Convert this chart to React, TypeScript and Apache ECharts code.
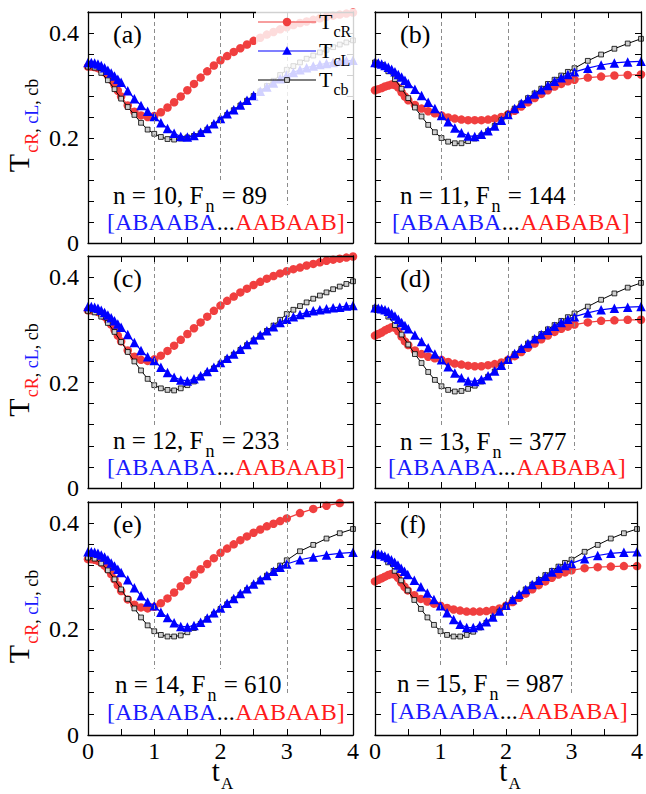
import React, { useEffect, useRef } from 'react';
import * as echarts from 'echarts';

// ---------- sampling grids (t_A) ----------
const T_FINE = [0, 0.05, 0.1, 0.15, 0.2, 0.25, 0.3, 0.35, 0.4, 0.45, 0.5, 0.6, 0.7, 0.8, 0.9, 1.0, 1.1, 1.2, 1.3, 1.4, 1.5, 1.6, 1.7, 1.8, 1.9, 2.0, 2.1, 2.2, 2.3, 2.4, 2.5, 2.6, 2.7, 2.8, 2.9, 3.0, 3.1, 3.2, 3.3, 3.4, 3.5, 3.6, 3.7, 3.8, 3.9, 4.0];
const T_COARSE = [0, 0.05, 0.1, 0.15, 0.2, 0.25, 0.3, 0.35, 0.4, 0.45, 0.5, 0.6, 0.7, 0.8, 0.9, 1.0, 1.1, 1.2, 1.3, 1.4, 1.5, 1.6, 1.7, 1.8, 1.9, 2.0, 2.1, 2.2, 2.3, 2.4, 2.5, 2.6, 2.7, 2.8, 2.9, 3.0, 3.2, 3.4, 3.6, 3.8, 4.0];
const TB_FINE = [0, 0.1, 0.2, 0.3, 0.4, 0.5, 0.6, 0.7, 0.8, 0.9, 1.0, 1.1, 1.2, 1.3, 1.4, 1.5, 1.6, 1.7, 1.8, 1.9, 2.0, 2.1, 2.2, 2.3, 2.4, 2.5, 2.6, 2.7, 2.8, 2.9, 3.0, 3.1, 3.2, 3.3, 3.4, 3.5, 3.6, 3.7, 3.8, 3.9, 4.0];
const TB_COARSE = [0, 0.1, 0.2, 0.3, 0.4, 0.5, 0.6, 0.7, 0.8, 0.9, 1.0, 1.1, 1.2, 1.3, 1.4, 1.5, 1.6, 1.7, 1.8, 1.9, 2.0, 2.1, 2.2, 2.3, 2.4, 2.5, 2.6, 2.7, 2.8, 2.9, 3.0, 3.2, 3.4, 3.6, 3.8, 4.0];

// ---------- panel (a) n=10 ----------
const RED_A = [0.336, 0.336, 0.335, 0.333, 0.330, 0.325, 0.319, 0.311, 0.301, 0.290, 0.279, 0.262, 0.250, 0.243, 0.240, 0.242, 0.249, 0.258, 0.268, 0.279, 0.291, 0.303, 0.315, 0.327, 0.338, 0.348, 0.356, 0.364, 0.371, 0.378, 0.385, 0.391, 0.397, 0.402, 0.407, 0.411, 0.415, 0.419, 0.422, 0.425, 0.428, 0.431, 0.433, 0.435, 0.437, 0.439];
const BLUE_A = [0.344, 0.344, 0.343, 0.341, 0.338, 0.334, 0.329, 0.324, 0.318, 0.312, 0.306, 0.290, 0.275, 0.262, 0.251, 0.241, 0.229, 0.218, 0.209, 0.203, 0.202, 0.205, 0.211, 0.218, 0.227, 0.237, 0.246, 0.254, 0.263, 0.272, 0.281, 0.289, 0.297, 0.305, 0.313, 0.320, 0.325, 0.330, 0.334, 0.337, 0.340, 0.342, 0.344, 0.346, 0.347, 0.348];
const BLACK_A = [0.336, 0.334, 0.324, 0.310, 0.293, 0.275, 0.259, 0.244, 0.229, 0.216, 0.208, 0.202, 0.198, 0.197, 0.199, 0.201, 0.204, 0.209, 0.216, 0.225, 0.235, 0.244, 0.253, 0.262, 0.271, 0.280, 0.289, 0.299, 0.309, 0.320, 0.330, 0.337, 0.344, 0.351, 0.357, 0.363, 0.368, 0.373, 0.378, 0.382, 0.386];

// ---------- panel (b) n=11 ----------
const RED_B = [0.291, 0.293, 0.295, 0.298, 0.300, 0.302, 0.301, 0.296, 0.287, 0.279, 0.272, 0.263, 0.256, 0.251, 0.247, 0.243, 0.239, 0.237, 0.235, 0.234, 0.234, 0.234, 0.235, 0.237, 0.240, 0.245, 0.252, 0.260, 0.268, 0.276, 0.284, 0.291, 0.298, 0.303, 0.308, 0.311, 0.315, 0.317, 0.319, 0.320, 0.321];
const BLUE_B = [0.344, 0.343, 0.341, 0.338, 0.335, 0.331, 0.326, 0.321, 0.316, 0.310, 0.304, 0.293, 0.281, 0.268, 0.256, 0.243, 0.231, 0.219, 0.210, 0.204, 0.203, 0.207, 0.214, 0.223, 0.234, 0.245, 0.256, 0.266, 0.275, 0.284, 0.292, 0.300, 0.308, 0.315, 0.321, 0.326, 0.333, 0.339, 0.343, 0.345, 0.346];
const BLACK_B = [0.344, 0.339, 0.327, 0.312, 0.294, 0.276, 0.258, 0.241, 0.225, 0.211, 0.200, 0.193, 0.190, 0.190, 0.194, 0.199, 0.205, 0.213, 0.223, 0.234, 0.245, 0.256, 0.266, 0.276, 0.285, 0.294, 0.303, 0.311, 0.319, 0.326, 0.333, 0.347, 0.359, 0.370, 0.380, 0.389];

// ---------- panel (c) n=12 ----------
const RED_C = [0.337, 0.337, 0.336, 0.334, 0.330, 0.325, 0.318, 0.310, 0.300, 0.289, 0.278, 0.261, 0.249, 0.243, 0.241, 0.244, 0.251, 0.260, 0.270, 0.281, 0.292, 0.303, 0.314, 0.325, 0.336, 0.346, 0.355, 0.363, 0.371, 0.378, 0.385, 0.391, 0.397, 0.402, 0.407, 0.411, 0.415, 0.418, 0.422, 0.425, 0.428, 0.431, 0.433, 0.435, 0.437, 0.439];
const BLUE_C = [0.344, 0.344, 0.343, 0.341, 0.337, 0.333, 0.328, 0.323, 0.317, 0.311, 0.305, 0.291, 0.276, 0.261, 0.249, 0.242, 0.229, 0.219, 0.210, 0.205, 0.203, 0.207, 0.213, 0.221, 0.229, 0.238, 0.246, 0.254, 0.263, 0.272, 0.281, 0.290, 0.298, 0.306, 0.314, 0.320, 0.325, 0.329, 0.333, 0.336, 0.338, 0.340, 0.342, 0.343, 0.345, 0.346];
const BLACK_C = [0.336, 0.333, 0.325, 0.313, 0.296, 0.277, 0.258, 0.240, 0.223, 0.207, 0.195, 0.189, 0.186, 0.185, 0.189, 0.195, 0.202, 0.210, 0.218, 0.227, 0.236, 0.245, 0.253, 0.262, 0.271, 0.280, 0.289, 0.298, 0.308, 0.319, 0.330, 0.338, 0.345, 0.352, 0.359, 0.365, 0.371, 0.377, 0.382, 0.387, 0.392];

// ---------- panel (d) n=13 ----------
const RED_D = [0.289, 0.292, 0.295, 0.299, 0.302, 0.305, 0.304, 0.297, 0.287, 0.278, 0.271, 0.261, 0.254, 0.249, 0.246, 0.243, 0.239, 0.236, 0.234, 0.232, 0.231, 0.231, 0.233, 0.235, 0.238, 0.243, 0.250, 0.258, 0.266, 0.274, 0.282, 0.289, 0.296, 0.302, 0.306, 0.310, 0.314, 0.317, 0.318, 0.319, 0.319];
const BLUE_D = [0.342, 0.341, 0.340, 0.338, 0.335, 0.331, 0.326, 0.320, 0.314, 0.308, 0.302, 0.290, 0.278, 0.266, 0.254, 0.243, 0.230, 0.218, 0.209, 0.203, 0.202, 0.206, 0.213, 0.222, 0.233, 0.244, 0.255, 0.265, 0.274, 0.283, 0.291, 0.299, 0.307, 0.314, 0.320, 0.325, 0.332, 0.338, 0.341, 0.343, 0.344];
const BLACK_D = [0.342, 0.337, 0.325, 0.309, 0.291, 0.272, 0.254, 0.237, 0.220, 0.205, 0.193, 0.186, 0.183, 0.184, 0.188, 0.194, 0.202, 0.211, 0.221, 0.232, 0.243, 0.254, 0.264, 0.274, 0.283, 0.292, 0.301, 0.309, 0.317, 0.324, 0.331, 0.344, 0.357, 0.369, 0.380, 0.389];

// ---------- panel (e) n=14 ----------
const RED_E = [0.332, 0.332, 0.331, 0.329, 0.325, 0.320, 0.313, 0.304, 0.294, 0.283, 0.272, 0.256, 0.246, 0.241, 0.239, 0.242, 0.249, 0.258, 0.269, 0.281, 0.292, 0.303, 0.313, 0.323, 0.334, 0.344, 0.352, 0.360, 0.368, 0.375, 0.382, 0.388, 0.394, 0.399, 0.404, 0.409, 0.419, 0.427, 0.433, 0.438, 0.441];
const BLUE_E = [0.346, 0.346, 0.345, 0.343, 0.340, 0.336, 0.331, 0.325, 0.319, 0.313, 0.307, 0.293, 0.278, 0.263, 0.251, 0.244, 0.232, 0.222, 0.212, 0.205, 0.204, 0.207, 0.213, 0.221, 0.231, 0.240, 0.249, 0.258, 0.267, 0.276, 0.285, 0.293, 0.301, 0.309, 0.317, 0.323, 0.331, 0.336, 0.340, 0.343, 0.345];
const BLACK_E = [0.335, 0.333, 0.324, 0.311, 0.294, 0.275, 0.257, 0.239, 0.222, 0.207, 0.196, 0.189, 0.186, 0.186, 0.188, 0.194, 0.202, 0.210, 0.219, 0.228, 0.238, 0.247, 0.256, 0.265, 0.274, 0.283, 0.292, 0.301, 0.310, 0.320, 0.330, 0.347, 0.359, 0.371, 0.381, 0.389];

// ---------- panel (f) n=15 ----------
const RED_F = [0.290, 0.293, 0.296, 0.299, 0.302, 0.304, 0.303, 0.297, 0.288, 0.280, 0.273, 0.264, 0.257, 0.252, 0.248, 0.244, 0.240, 0.237, 0.235, 0.233, 0.233, 0.233, 0.234, 0.236, 0.239, 0.244, 0.251, 0.259, 0.267, 0.275, 0.283, 0.290, 0.297, 0.303, 0.307, 0.311, 0.315, 0.317, 0.318, 0.319, 0.319];
const BLUE_F = [0.343, 0.342, 0.341, 0.338, 0.335, 0.331, 0.326, 0.321, 0.315, 0.309, 0.303, 0.292, 0.280, 0.268, 0.256, 0.244, 0.231, 0.218, 0.209, 0.203, 0.203, 0.207, 0.214, 0.223, 0.234, 0.245, 0.256, 0.266, 0.275, 0.284, 0.292, 0.300, 0.308, 0.315, 0.320, 0.324, 0.333, 0.339, 0.343, 0.345, 0.346];
const BLACK_F = [0.343, 0.338, 0.326, 0.310, 0.292, 0.273, 0.255, 0.238, 0.222, 0.208, 0.196, 0.189, 0.186, 0.186, 0.189, 0.195, 0.203, 0.212, 0.222, 0.233, 0.244, 0.255, 0.265, 0.275, 0.284, 0.293, 0.302, 0.310, 0.318, 0.325, 0.331, 0.346, 0.359, 0.371, 0.381, 0.389];

// ---------- labels ----------
const PANEL_LABELS = ['(a)', '(b)', '(c)', '(d)', '(e)', '(f)'];
const N_VALUES = [10, 11, 12, 13, 14, 15];
const FN_VALUES = [89, 144, 233, 377, 610, 987];
const SEQ_LEFT = 'ABAABA';
const SEQ_RIGHT = ['AABAAB', 'AABABA', 'AABAAB', 'AABABA', 'AABAAB', 'AABABA'];
const X_TICK_LABELS = ['0', '1', '2', '3', '4'];
const Y_TICK_LABELS = ['0', '0.2', '0.4'];
const LEGEND_SUBS = ['cR', 'cL', 'cb'];

// ---------- styles / layout ----------
const FONT = 'Liberation Serif';
const RED = '#f03f3f';
const BLUE = '#0000ff';
const TXT_RED = '#ff1a1a';
const TXT_BLUE = '#1a1aff';
const COLS = [{ left: 88, width: 265 }, { left: 375, width: 266 }];
const ROWS = [{ top: 12, height: 231 }, { top: 256, height: 232 }, { top: 502, height: 233 }];
// text offsets: [dx1, baselineFromBottom1, dx2, baselineFromBottom2]
const TEXT_POS = [[25, 39, 19, 13], [25, 39, 17, 13], [25, 39, 19, 13], [25, 38, 13, 13], [27, 42, 19, 15], [22, 43, 15, 16]];

const PANELS = [
  { red: RED_A, blue: BLUE_A, black: BLACK_A, t: T_FINE, tb: TB_FINE },
  { red: RED_B, blue: BLUE_B, black: BLACK_B, t: T_COARSE, tb: TB_COARSE },
  { red: RED_C, blue: BLUE_C, black: BLACK_C, t: T_FINE, tb: TB_FINE },
  { red: RED_D, blue: BLUE_D, black: BLACK_D, t: T_COARSE, tb: TB_COARSE },
  { red: RED_E, blue: BLUE_E, black: BLACK_E, t: T_COARSE, tb: TB_COARSE },
  { red: RED_F, blue: BLUE_F, black: BLACK_F, t: T_COARSE, tb: TB_COARSE },
];

let measureCtx: CanvasRenderingContext2D | null = null;
function measure(text: string, size: number): number {
  if (!measureCtx) measureCtx = document.createElement('canvas').getContext('2d');
  measureCtx!.font = `${size}px ${FONT}`;
  return measureCtx!.measureText(text).width;
}

type Frag = { text: string; size: number; color: string; dy: number; gap?: number };
function fragWidth(frags: Frag[]): number {
  return frags.reduce((s, f) => s + measure(f.text, f.size) + (f.gap || 0), 0);
}
function fragTexts(frags: Frag[], x0: number, baseline: number, z: number): any[] {
  let x = x0;
  const out: any[] = [];
  for (const f of frags) {
    x += f.gap || 0;
    const lead = f.text.length - f.text.replace(/^\s+/, '').length;
    const leadW = lead ? measure(f.text.slice(0, lead), f.size) : 0;
    const t = f.text.trim();
    out.push({
      type: 'text', x: x + leadW, y: baseline + f.dy - 0.34 * f.size, z, silent: true,
      style: {
        text: t, fontSize: f.size, fontFamily: FONT, fill: f.color,
        align: 'left', verticalAlign: 'middle', textAlign: 'left', textVerticalAlign: 'middle',
      },
    });
    x += measure(f.text, f.size);
  }
  return out;
}

function buildOption() {
  const grid: any[] = [];
  const xAxis: any[] = [];
  const yAxis: any[] = [];
  const series: any[] = [];
  const elements: any[] = [];

  const axisLine = { show: true, onZero: false, lineStyle: { color: '#000', width: 1.3 } };
  const axisTick = { show: true, inside: true, length: 6, lineStyle: { color: '#000', width: 1 } };
  const labelBase = { fontSize: 24, fontFamily: FONT, color: '#000' };

  PANELS.forEach((p, i) => {
    const r = Math.floor(i / 2);
    const c = i % 2;
    const L = COLS[c].left, W = COLS[c].width, T = ROWS[r].top, H = ROWS[r].height, B = T + H;
    grid.push({ left: L, top: T, width: W, height: H });
    const showX = r === 2, showY = c === 0;
    ['bottom', 'top'].forEach((pos, k) => {
      xAxis.push({
        type: 'value', gridIndex: i, position: pos, min: 0, max: 4, interval: 0.5, z: 20,
        axisLine, axisTick, splitLine: { show: false },
        axisLabel: {
          show: showX && k === 0, margin: 4, ...labelBase, showMinLabel: true, showMaxLabel: true,
          formatter: (v: number) => X_TICK_LABELS.find((l) => Math.abs(parseFloat(l) - v) < 1e-6) ?? '',
        },
      });
    });
    ['left', 'right'].forEach((pos, k) => {
      yAxis.push({
        type: 'value', gridIndex: i, position: pos, min: 0, max: 0.44, interval: 0.04, z: 20,
        axisLine, axisTick, splitLine: { show: false },
        axisLabel: {
          show: showY && k === 0, margin: 9, ...labelBase,
          formatter: (v: number) => Y_TICK_LABELS.find((l) => Math.abs(parseFloat(l) - v) < 1e-6) ?? '',
        },
      });
    });
    const xi = 2 * i, yi = 2 * i;
    series.push({
      type: 'line', xAxisIndex: xi, yAxisIndex: yi, data: [], z: 1, silent: true,
      markLine: {
        silent: true, symbol: ['none', 'none'], label: { show: false },
        lineStyle: { type: [4, 3], color: '#8c8c8c', width: 1 },
        data: [{ xAxis: 1 }, { xAxis: 2 }, { xAxis: 3 }],
      },
    });
    series.push({
      type: 'line', name: 'TcR', xAxisIndex: xi, yAxisIndex: yi, z: 2,
      data: p.t.map((t, k) => [t, p.red[k]]),
      symbol: 'circle', symbolSize: 8.5, showAllSymbol: true,
      itemStyle: { color: RED }, lineStyle: { color: RED, width: 1.2 },
    });
    series.push({
      type: 'line', name: 'Tcb', xAxisIndex: xi, yAxisIndex: yi, z: 3,
      data: p.tb.map((t, k) => [t, p.black[k]]),
      symbol: 'rect', symbolSize: 4.8, showAllSymbol: true,
      itemStyle: { color: '#cfcfcf', borderColor: '#000', borderWidth: 0.8 }, lineStyle: { color: '#000', width: 1 },
    });
    series.push({
      type: 'line', name: 'TcL', xAxisIndex: xi, yAxisIndex: yi, z: 4,
      data: p.t.map((t, k) => [t, p.blue[k]]),
      symbol: 'triangle', symbolSize: 9.5, showAllSymbol: true,
      itemStyle: { color: BLUE }, lineStyle: { color: BLUE, width: 1.2 },
    });

    // panel label
    elements.push(...fragTexts([{ text: PANEL_LABELS[i], size: 26, color: '#000', dy: 0 }], L + 25, T + 31, 30));

    // annotation texts with white boxes
    const [dx1, b1, dx2, b2] = TEXT_POS[i];
    const f1: Frag[] = [
      { text: `n = ${N_VALUES[i]}, F`, size: 25, color: '#000', dy: 0 },
      { text: 'n', size: 18, color: '#000', dy: 8, gap: 2 },
      { text: ` = ${FN_VALUES[i]}`, size: 25, color: '#000', dy: 0, gap: 1 },
    ];
    const f2: Frag[] = [
      { text: `[${SEQ_LEFT}`, size: 24, color: TXT_BLUE, dy: 0 },
      { text: '...', size: 24, color: '#000', dy: 0, gap: 0.5 },
      { text: `${SEQ_RIGHT[i]}]`, size: 24, color: TXT_RED, dy: 0, gap: 0.5 },
    ];
    const x1 = L + dx1, y1 = B - b1, x2 = L + dx2, y2 = B - b2;
    const w1 = fragWidth(f1), w2 = fragWidth(f2);
    elements.push({ type: 'rect', z: 10, silent: true, shape: { x: x1 - 4, y: y1 - 24, width: w1 + 8, height: B - (y1 - 24) }, style: { fill: '#fff' } });
    elements.push({ type: 'rect', z: 10, silent: true, shape: { x: x2 - 3, y: y2 - 25, width: w2 + 6, height: B - (y2 - 25) }, style: { fill: '#fff' } });
    elements.push(...fragTexts(f1, x1, y1, 30));
    elements.push(...fragTexts(f2, x2, y2, 30));
  });

  // legend (panel a)
  elements.push({ type: 'rect', z: 50, silent: true, shape: { x: 256, y: 9, width: 104, height: 91 }, style: { fill: 'rgba(255,255,255,0.82)' } });
  const legendRows = [22, 51, 80];
  const legendColors = [RED, BLUE, '#000'];
  legendRows.forEach((y, k) => {
    elements.push({ type: 'line', z: 55, silent: true, shape: { x1: 258, y1: y, x2: 316, y2: y }, style: { stroke: legendColors[k], lineWidth: 1.2 } });
    if (k === 0) elements.push({ type: 'circle', z: 56, silent: true, shape: { cx: 287, cy: y, r: 4.25 }, style: { fill: RED } });
    if (k === 1) elements.push({ type: 'polygon', z: 56, silent: true, shape: { points: [[287, y - 4.75], [291.75, y + 3.75], [282.25, y + 3.75]] }, style: { fill: BLUE } });
    if (k === 2) elements.push({ type: 'rect', z: 56, silent: true, shape: { x: 284.6, y: y - 2.4, width: 4.8, height: 4.8 }, style: { fill: '#cfcfcf', stroke: '#000', lineWidth: 0.8 } });
    elements.push(...fragTexts([
      { text: 'T', size: 22, color: '#000', dy: 0 },
      { text: LEGEND_SUBS[k], size: 16, color: '#000', dy: 8, gap: 1 },
    ], 319, y + 6.5, 57));
  });

  // y-axis titles (rotated)
  ROWS.forEach((row) => {
    const frags: Frag[] = [
      { text: 'T', size: 30, color: '#000', dy: 0 },
      { text: 'cR', size: 18, color: TXT_RED, dy: 9, gap: 1 },
      { text: ',', size: 18, color: '#000', dy: 9 },
      { text: ' cL', size: 18, color: TXT_BLUE, dy: 9 },
      { text: ',', size: 18, color: '#000', dy: 9 },
      { text: ' cb', size: 18, color: '#000', dy: 9 },
    ];
    const w = fragWidth(frags);
    const cy = row.top + row.height / 2 - 2;
    elements.push({
      type: 'group', x: 29, y: cy, rotation: Math.PI / 2, z: 30,
      children: fragTexts(frags, -w / 2, 0, 30),
    });
  });

  // x-axis titles
  COLS.forEach((col) => {
    const frags: Frag[] = [
      { text: 't', size: 29, color: '#000', dy: 0 },
      { text: 'A', size: 17, color: '#000', dy: 8, gap: 1 },
    ];
    const w = fragWidth(frags);
    elements.push(...fragTexts(frags, col.left + col.width / 2 - w / 2 + 2, 781, 30));
  });

  return {
    animation: false,
    backgroundColor: '#fff',
    textStyle: { fontFamily: FONT },
    grid, xAxis, yAxis, series,
    graphic: { elements },
  };
}

export default function App() {
  const ref = useRef<HTMLDivElement>(null);
  useEffect(() => {
    document.body.style.margin = '0';
    if (!ref.current) return;
    const chart = echarts.init(ref.current, null, { renderer: 'svg' });
    chart.setOption(buildOption() as any);
    return () => chart.dispose();
  }, []);
  return <div ref={ref} style={{ width: 646, height: 794 }} />;
}
